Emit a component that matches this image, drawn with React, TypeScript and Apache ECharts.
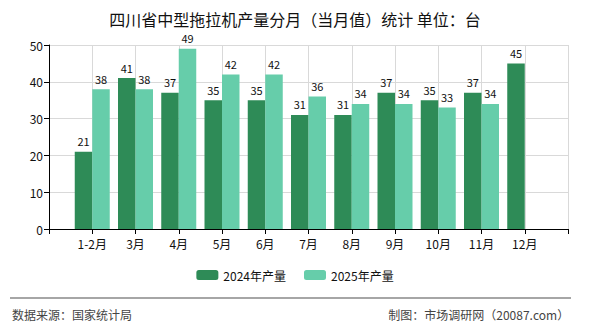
import React, { useEffect, useRef } from "react";
import * as echarts from "echarts";

const months = ["1-2月", "3月", "4月", "5月", "6月", "7月", "8月", "9月", "10月", "11月", "12月"];
const values2024 = [21, 41, 37, 35, 35, 31, 31, 37, 35, 37, 45];
const values2025: (number | null)[] = [38, 38, 49, 42, 42, 36, 34, 34, 33, 34, null];
const yTicks = { min: 0, max: 50, interval: 10 };

const FONT = "'Noto Sans CJK SC', 'Noto Sans', sans-serif";

export default function App() {
  const ref = useRef<HTMLDivElement>(null);
  useEffect(() => {
    if (!ref.current) return;
    const chart = echarts.init(ref.current, undefined, { renderer: "svg" });
    const cats = ["", ...months, ""];
    const d24 = [null, ...values2024, null];
    const d25 = [null, ...values2025, null];
    chart.setOption({
      animation: false,
      textStyle: { fontFamily: FONT },
      title: {
        text: "四川省中型拖拉机产量分月（当月值）统计 单位：台",
        left: "center",
        top: 6,
        textStyle: { fontSize: 16, fontWeight: "normal", color: "#111", fontFamily: FONT },
      },
      legend: {
        bottom: 44,
        left: "center",
        itemWidth: 22,
        itemHeight: 10,
        itemGap: 18,
        textStyle: { fontSize: 12, color: "#111", fontFamily: FONT },
        data: ["2024年产量", "2025年产量"],
      },
      grid: { left: 49, right: 22, top: 45, bottom: 101, containLabel: false },
      xAxis: {
        type: "category",
        data: cats,
        boundaryGap: false,
        axisLine: { lineStyle: { color: "#000" } },
        axisTick: { show: true, lineStyle: { color: "#000" } },
        axisLabel: { interval: 0, color: "#111", fontSize: 12, margin: 8 },
        splitLine: { show: true, lineStyle: { color: "#d9d9d9" } },
      },
      yAxis: {
        type: "value",
        min: yTicks.min,
        max: yTicks.max,
        interval: yTicks.interval,
        axisLine: { show: true, lineStyle: { color: "#000" } },
        axisTick: { show: true, lineStyle: { color: "#000" } },
        axisLabel: { color: "#111", fontSize: 12, margin: 6 },
        splitLine: { show: true, lineStyle: { color: "#d9d9d9" } },
      },
      series: [
        {
          name: "2024年产量",
          type: "bar",
          data: d24,
          barWidth: 17.5,
          barGap: "0%",
          itemStyle: { color: "#2e8b57" },
          label: { show: true, position: "top", color: "#111", fontSize: 11 },
        },
        {
          name: "2025年产量",
          type: "bar",
          data: d25,
          barWidth: 17.5,
          barGap: "0%",
          itemStyle: { color: "#66cdaa" },
          label: { show: true, position: "top", color: "#111", fontSize: 11 },
        },
      ],
      graphic: [
        {
          type: "line",
          shape: { x1: 10, y1: 298, x2: 571, y2: 298 },
          style: { stroke: "#888", lineWidth: 1.5 },
        },
        {
          type: "text",
          left: 12,
          top: 308,
          style: { text: "数据来源：国家统计局", fill: "#444", fontSize: 12, fontFamily: FONT },
        },
        {
          type: "text",
          right: 21,
          top: 308,
          style: { text: "制图：市场调研网（20087.com）", fill: "#444", fontSize: 12, fontFamily: FONT },
        },
      ],
    });
    return () => chart.dispose();
  }, []);
  return (
    <div
      ref={ref}
      style={{ position: "fixed", left: 0, top: 0, width: 590, height: 330, background: "#fff" }}
    />
  );
}
